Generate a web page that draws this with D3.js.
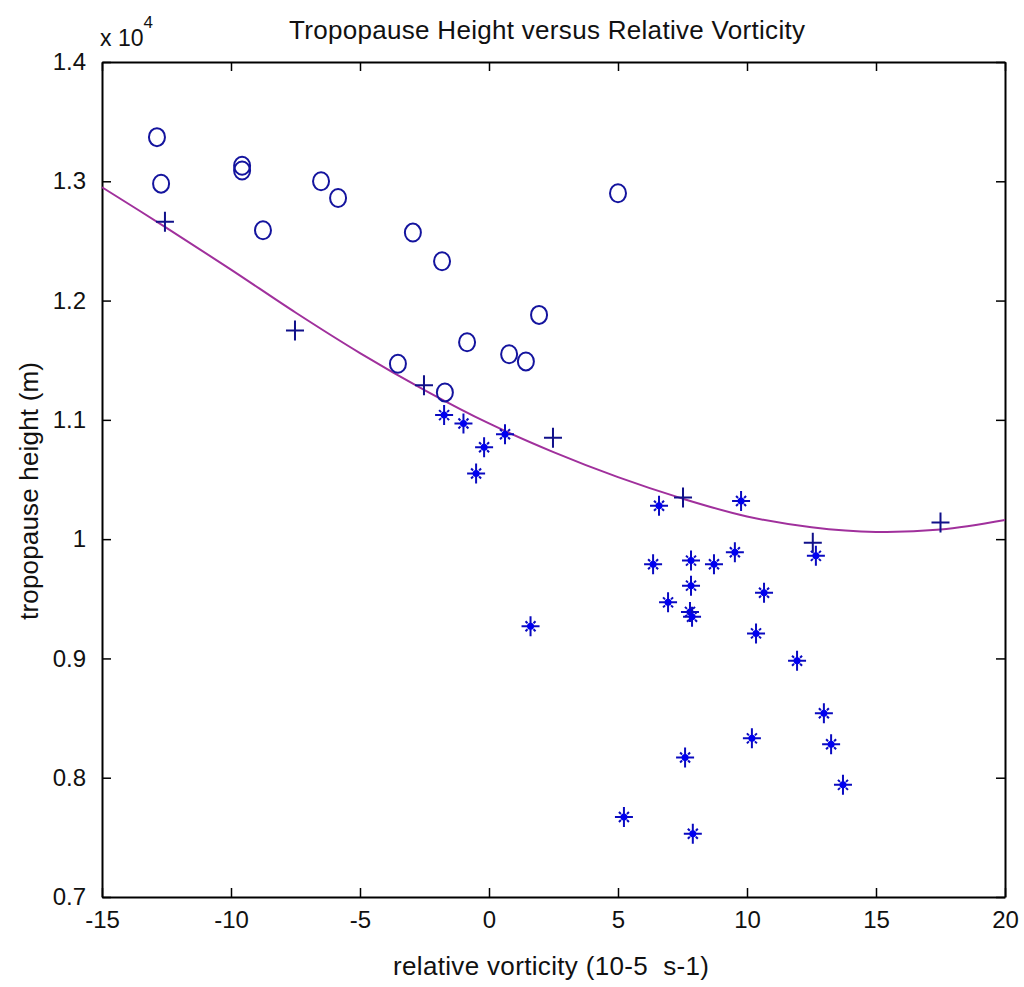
<!DOCTYPE html>
<html>
<head>
<meta charset="utf-8">
<script src="https://cdn.jsdelivr.net/npm/d3@7"></script>
<style>
  body { margin: 0; background: #fff; }
  text { font-family: "Liberation Sans Narrow", "Liberation Sans", Arial, sans-serif; fill: #111; }
</style>
</head>
<body>
<div id="chart"></div>
<script>
// data (x in 10^-5 s^-1, y in metres)
const circleX = [-12.87, -12.71, -9.57, -9.57, -8.76, -6.51, -5.85, -2.95, -1.82, 1.94, -0.85, 0.78, 1.43, -3.53, -1.71, 5.0];
const circleY = [13370, 12980, 13130, 13090, 12590, 13000, 12860, 12570, 12330, 11880, 11650, 11550, 11490, 11470, 11230, 12900];

const plusX = [-12.56, -7.52, -2.52, 2.48, 7.52, 12.55, 17.5];
const plusY = [12660, 11750, 11290, 10850, 10350, 9970, 10140];

const starX = [-1.74, -0.99, 0.62, -0.19, -0.50, 1.61, 6.59, 9.77, 6.36, 7.83, 8.72, 9.53, 12.67, 7.83, 6.94, 7.79, 7.87, 10.66, 10.35, 11.94, 12.98, 10.19, 13.26, 7.6, 13.72, 5.23, 7.9];
const starY = [11040, 10970, 10880, 10770, 10550, 9270, 10280, 10320, 9790, 9820, 9790, 9890, 9860, 9610, 9470, 9390, 9350, 9550, 9210, 8980, 8540, 8330, 8280, 8170, 7940, 7670, 7530];

// fitted curve
const fitX = [-15, -12.5, -10, -7.5, -5, -2.5, 0, 2.5, 5, 7.5, 10, 12.5, 15, 17.5, 20];
const fitY = [12950, 12610, 12260, 11900, 11560, 11250, 10970, 10730, 10520, 10340, 10190, 10100, 10060, 10080, 10160];

const xTicks = [-15, -10, -5, 0, 5, 10, 15, 20];
const yTicks = [7000, 8000, 9000, 10000, 11000, 12000, 13000, 14000];

const width = 1024, height = 987;
const margin = { top: 62, right: 19, bottom: 90, left: 102 };
const innerW = width - margin.left - margin.right;
const innerH = height - margin.top - margin.bottom;

const svg = d3.select("#chart").append("svg")
    .attr("width", width)
    .attr("height", height);

const g = svg.append("g")
    .attr("transform", `translate(${margin.left},${margin.top})`);

const x = d3.scaleLinear().domain([-15, 20]).range([0, innerW]);
const y = d3.scaleLinear().domain([7000, 14000]).range([innerH, 0]);

const tickLen = 9;
const fmtY = d => String(+(d / 1e4).toFixed(1));

// axes, ticks pointing inward on all four sides
const axisStyle = sel => {
    sel.select(".domain").attr("stroke", "#000").attr("stroke-width", 2);
    sel.selectAll(".tick line").attr("stroke", "#000").attr("stroke-width", 1.5);
    sel.selectAll(".tick text").style("font-size", "24px").attr("fill", "#111");
};

g.append("g")
    .attr("transform", `translate(0,${innerH})`)
    .call(d3.axisBottom(x).tickValues(xTicks).tickSizeInner(-tickLen).tickSizeOuter(0).tickPadding(14).tickFormat(d => String(d)))
    .call(axisStyle);

g.append("g")
    .call(d3.axisTop(x).tickValues(xTicks).tickSizeInner(-tickLen).tickSizeOuter(0).tickFormat(""))
    .call(axisStyle);

g.append("g")
    .call(d3.axisLeft(y).tickValues(yTicks).tickSizeInner(-tickLen).tickSizeOuter(0).tickPadding(16).tickFormat(fmtY))
    .call(axisStyle);

g.append("g")
    .attr("transform", `translate(${innerW},0)`)
    .call(d3.axisRight(y).tickValues(yTicks).tickSizeInner(-tickLen).tickSizeOuter(0).tickFormat(""))
    .call(axisStyle);

// fitted curve
const fit = fitX.map((d, i) => ({ x: d, y: fitY[i] }));
g.append("path")
    .datum(fit)
    .attr("fill", "none")
    .attr("stroke", "#a0309c")
    .attr("stroke-width", 2)
    .attr("d", d3.line().x(d => x(d.x)).y(d => y(d.y)).curve(d3.curveCatmullRom));

// circles
g.selectAll(".circ")
    .data(circleX.map((d, i) => ({ x: d, y: circleY[i] })))
    .enter().append("ellipse")
    .attr("class", "circ")
    .attr("cx", d => x(d.x))
    .attr("cy", d => y(d.y))
    .attr("rx", 8)
    .attr("ry", 9)
    .attr("fill", "none")
    .attr("stroke", "#14149e")
    .attr("stroke-width", 2);

// plus markers
const plusG = g.selectAll(".plus")
    .data(plusX.map((d, i) => ({ x: d, y: plusY[i] })))
    .enter().append("g")
    .attr("class", "plus")
    .attr("transform", d => `translate(${x(d.x)},${y(d.y)})`);
plusG.append("path")
    .attr("d", "M-9,0H9M0,-10V10")
    .attr("stroke", "#10108a")
    .attr("stroke-width", 2);

// star markers
const starG = g.selectAll(".star")
    .data(starX.map((d, i) => ({ x: d, y: starY[i] })))
    .enter().append("g")
    .attr("class", "star")
    .attr("transform", d => `translate(${x(d.x)},${y(d.y)})`);
starG.append("path")
    .attr("d", "M-9,0H9M0,-10V10M-5,-5L-3,-3M5,-5L3,-3M-5,5L-3,3M5,5L3,3")
    .attr("stroke", "#0a0ac0")
    .attr("stroke-width", 2);
starG.append("circle")
    .attr("r", 3.5)
    .attr("fill", "#0000f0");

// title and labels
svg.append("text")
    .attr("x", 547)
    .attr("y", 39)
    .attr("text-anchor", "middle")
    .style("font-size", "26px")
    .attr("textLength", 516)
    .text("Tropopause Height versus Relative Vorticity");

svg.append("text")
    .attr("x", 551)
    .attr("y", 975)
    .attr("text-anchor", "middle")
    .style("font-size", "26px")
    .style("white-space", "pre")
    .attr("textLength", 316)
    .text("relative vorticity (10-5  s-1)");

svg.append("text")
    .attr("transform", "translate(38,491) rotate(-90)")
    .attr("text-anchor", "middle")
    .style("font-size", "26px")
    .attr("textLength", 258)
    .text("tropopause height (m)");

const mult = svg.append("text")
    .attr("x", 100)
    .attr("y", 46)
    .style("font-size", "23px");
mult.append("tspan").text("x 10");
mult.append("tspan").attr("dy", -18).style("font-size", "17px").text("4");
</script>
</body>
</html>
